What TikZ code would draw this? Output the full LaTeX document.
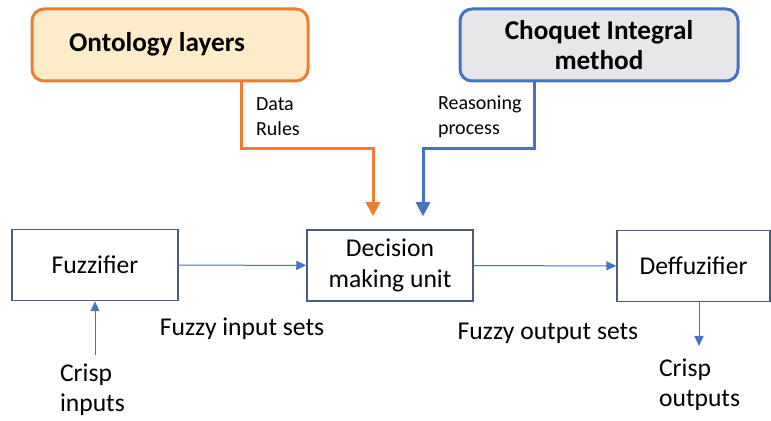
\documentclass[tikz,border=0pt]{standalone}
\usepackage{fontspec}
\setmainfont{Carlito}
\usepackage{tikz}
\usetikzlibrary{arrows.meta, positioning}

\definecolor{ontoorange}{HTML}{ED7D31}
\definecolor{ontofill}{HTML}{FDEBC9}
\definecolor{choqblue}{HTML}{4472C4}
\definecolor{choqfill}{HTML}{E7E6E8}
\definecolor{unitedge}{HTML}{4A5E7C}

\begin{document}
\begin{tikzpicture}[x=0.5pt, y=-0.5pt,
    unit/.style={draw=unitedge, line width=0.75pt, minimum height=35.5pt,
      align=center, font=\fontsize{12.8}{15.5}\selectfont},
    source/.style={rounded corners=6pt, line width=1.5pt, minimum height=36pt,
      align=center, font=\fontsize{13.6}{15}\selectfont\bfseries},
    small/.style={align=left, anchor=west, font=\fontsize{10}{12.5}\selectfont},
    plain/.style={align=left, font=\fontsize{12.8}{15}\selectfont},
    flow/.style={-{Triangle[length=5pt, width=4.5pt]}, draw=choqblue, line width=0.5pt},
    feed/.style={-{Triangle[length=7pt, width=7pt]}, line width=1.5pt, shorten >=6.5pt}]
   \useasboundingbox (0,0) rectangle (771,421);

   % sources of knowledge
   \node[source, draw=ontoorange, fill=ontofill, minimum width=138pt] (ont) at (170,45) {};
   \node[font=\fontsize{13.6}{15}\selectfont\bfseries] (ontlabel) at (157,44) {Ontology layers};
   \node[source, draw=choqblue, fill=choqfill, minimum width=139pt] (choq) at (599,45)
        {Choquet Integral\\method};

   % fuzzy system
   \node[unit, minimum width=83pt] (fuzz) at (95,265) {Fuzzifier};
   \node[unit, minimum width=83pt] (dec) at (390,265.5) {Decision\\making unit};
   \node[unit, minimum width=76.5pt] (defuzz) at (693.5,266) {Deffuzifier};

   % labels
   \node[small] (datarules) at (249,117) {Data\\Rules};
   \node[small] (reason) at (431,117) {Reasoning\\process};
   \node[plain] (fin) at (242,329) {Fuzzy input sets};
   \node[plain] (fout) at (548,333) {Fuzzy output sets};
   \node[plain, anchor=west] (crispin) at (53,390) {Crisp\\inputs};
   \node[plain, anchor=west] (crispout) at (652,385) {Crisp\\outputs};

   \coordinate (ontout) at ([xshift=35.5pt]ont.south);
   \coordinate (choqout) at ([xshift=-32.5pt]choq.south);
   \coordinate (decin1) at ([xshift=-8.5pt]dec.north);
   \coordinate (decin2) at ([xshift=16.5pt]dec.north);
   \coordinate (turn) at (0,149);
   \coordinate (crispsrc) at (95,355);
   \coordinate (crispdst) at (699,346);

   \draw[feed, draw=ontoorange] (ontout) -- (ontout |- turn) -| (decin1);
   \draw[feed, draw=choqblue] (choqout) -- (choqout |- turn) -| (decin2);

   \draw[flow] (fuzz) -- (dec);
   \draw[flow] (dec) -- (defuzz);
   \draw[flow] (crispsrc) -- (fuzz);
   \draw[flow] (crispdst |- defuzz.south) -- (crispdst);
\end{tikzpicture}
\end{document}
